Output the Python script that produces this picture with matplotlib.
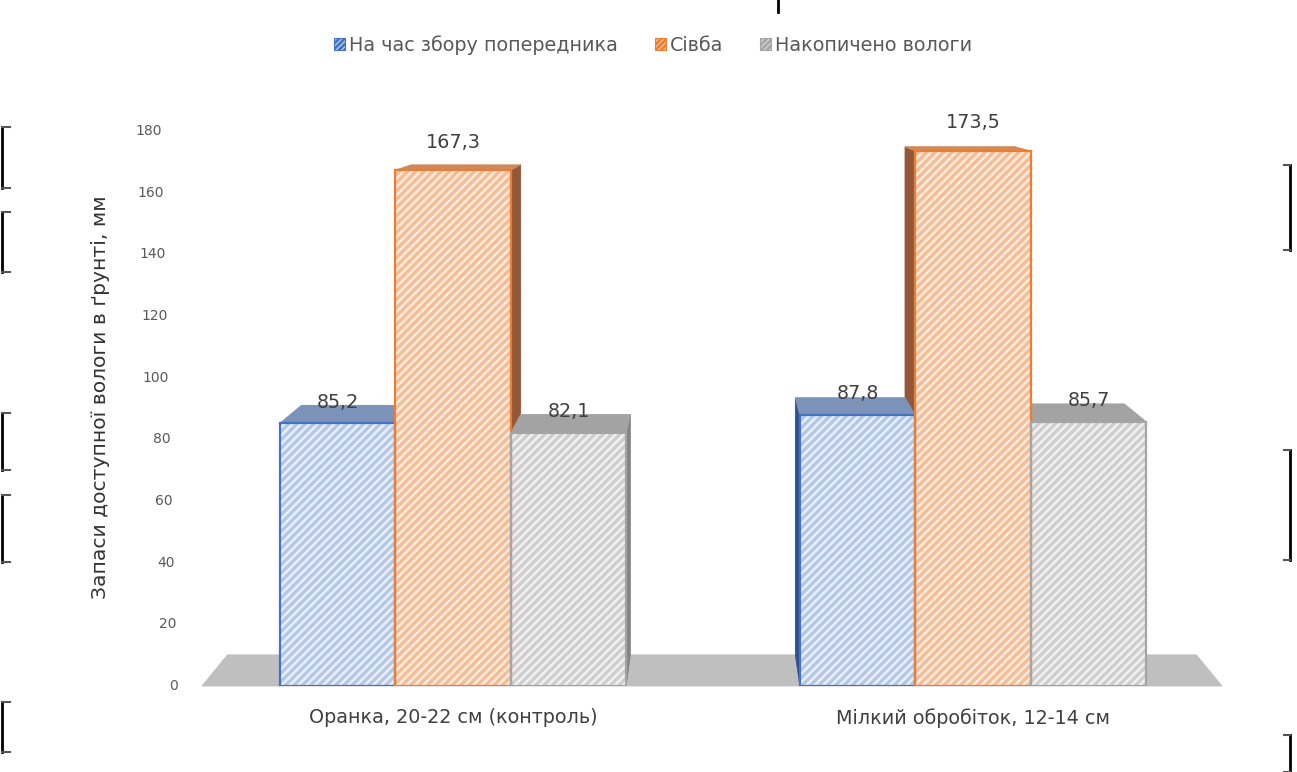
import matplotlib
matplotlib.use("Agg")
import matplotlib.pyplot as plt
from matplotlib.patches import Polygon, Patch
from matplotlib.lines import Line2D
import numpy as np

# ---- data -------------------------------------------------------------
categories = ["Оранка, 20-22 см (контроль)", "Мілкий обробіток, 12-14 см"]
series_names = ["На час збору попередника", "Сівба", "Накопичено вологи"]
harvest = [85.2, 87.8]        # на час збору попередника
sowing = [167.3, 173.5]       # сівба
accumulated = [82.1, 85.7]    # накопичено вологи
y_ticks = [0, 20, 40, 60, 80, 100, 120, 140, 160, 180]
y_label = "Запаси доступної вологи в ґрунті, мм"

# ---- style ------------------------------------------------------------
plt.rcParams['font.family'] = ['DejaVu Sans']
plt.rcParams['hatch.linewidth'] = 1.8

FS = 13.8        # labels, legend, categories
FS_TICK = 10     # value axis

styles = [
    # fill, stripe, outline, top face, side face
    dict(fill='#b4c7e7', stripe='#eaf0f9', edge='#4472c4', top='#7d92b8', side='#2f528f'),
    dict(fill='#f6bd95', stripe='#fdece0', edge='#ed7d31', top='#cf8a5c', side='#93573a'),
    dict(fill='#cfcfcf', stripe='#f2f2f2', edge='#a5a5a5', top='#a3a3a3', side='#858585'),
]
series = [harvest, sowing, accumulated]

W, H = 1297, 772
fig = plt.figure(figsize=(W / 100, H / 100), dpi=100)
ax = fig.add_axes([202 / W, 86 / H, 1020 / W, 555 / H])
ax.set_xlim(-0.4827, 1.4788)
ax.set_ylim(0, 180)
for s in ax.spines.values():
    s.set_visible(False)
ax.set_facecolor('none')

# simple one-point perspective for the pseudo-3D look
VP = (0.494, 201.7)
SCALE = 0.95


def back(x, y):
    return (VP[0] + SCALE * (x - VP[0]), VP[1] + SCALE * (y - VP[1]))


def face(points, color, z):
    ax.add_patch(Polygon(points, closed=True, facecolor=color, edgecolor=color,
                         lw=0.6, zorder=z, clip_on=False))


# floor
fx0, fx1 = ax.get_xlim()
face([(fx0, 0), (fx1, 0), back(fx1, 0), back(fx0, 0)], '#bfbfbf', 1)

w = 0.222
offsets = [-w, 0.0, w]
x = np.arange(len(categories))

for vals, off, st in zip(series, offsets, styles):
    xc = x + off
    for xi, v in zip(xc, vals):
        x0, x1 = xi - w / 2, xi + w / 2
        # top face
        face([(x0, v), (x1, v), back(x1, v), back(x0, v)], st['top'], 3)
        # visible side face
        if x1 < VP[0]:
            face([(x1, 0), (x1, v), back(x1, v), back(x1, 0)], st['side'], 2)
        elif x0 > VP[0]:
            face([(x0, 0), (x0, v), back(x0, v), back(x0, 0)], st['side'], 2)
    ax.bar(xc, vals, w, color=st['fill'], edgecolor=st['stripe'], hatch='////',
           lw=0, zorder=4)
    ax.bar(xc, vals, w, fill=False, edgecolor=st['edge'], lw=1.6, zorder=5)
    for xi, v in zip(xc, vals):
        ax.annotate(f"{v:.1f}".replace('.', ','), xy=(xi, v),
                    xytext=(0, 10.2 + 0.06 * v), textcoords='offset points',
                    ha='center', va='center', fontsize=FS, color='#404040',
                    zorder=6, annotation_clip=False)

# value axis labels (slanted with the perspective)
ax.set_yticks([])
for v in y_ticks:
    ax.annotate(str(v), xy=(0, v), xycoords=('axes fraction', 'data'),
                xytext=(-(24 + 16 * v / 180) * 0.72, 0), textcoords='offset points',
                ha='right', va='center', fontsize=FS_TICK, color='#595959',
                annotation_clip=False)

ax.set_xticks(x)
ax.set_xticklabels(categories, fontsize=FS, color='#404040')
ax.tick_params(axis='x', length=0, pad=16)

fig.text(100 / W, 1 - 397 / H, y_label, rotation=90, ha='center', va='center',
         fontsize=14.6, color='#333333')

handles = [Patch(facecolor=st['fill'], edgecolor=st['edge'], hatch='//////', lw=0.8)
           for st in styles]
fig.legend(handles, series_names, loc='center', bbox_to_anchor=(653 / W, 1 - 45 / H),
           ncol=3, frameon=False, fontsize=FS, handlelength=0.6, handleheight=0.6,
           handletextpad=0.2, columnspacing=1.9, labelcolor='#595959')

# frame handles along the page edges
def vline(xp, y0, y1, tick=None):
    fig.add_artist(Line2D([xp / W, xp / W], [1 - y0 / H, 1 - y1 / H],
                          color='black', lw=2, transform=fig.transFigure))
    if tick:
        for yp in (y0, y1):
            fig.add_artist(Line2D([xp / W, (xp + tick) / W], [1 - yp / H, 1 - yp / H],
                                  color='#555555', lw=1.5, transform=fig.transFigure))


for a, b in [(127, 188), (212, 272), (413, 470), (495, 562), (702, 752)]:
    vline(1.5, a, b, tick=8)
for a, b in [(165, 250), (450, 560), (735, 772)]:
    vline(1290, a, b, tick=-6)
vline(778, 0, 12)

fig.savefig("out.png", dpi=100, facecolor='white')
